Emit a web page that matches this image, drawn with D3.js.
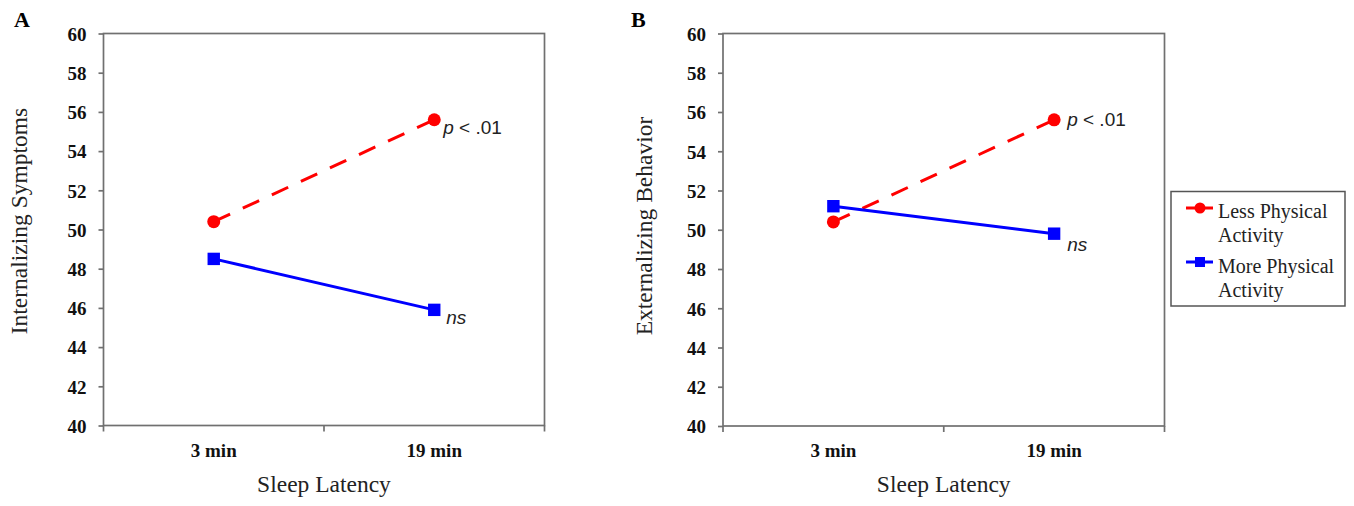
<!DOCTYPE html>
<html>
<head>
<meta charset="utf-8">
<script src="https://cdn.jsdelivr.net/npm/d3@7"></script>
<style>
  html, body { margin: 0; padding: 0; background: #fff; }
  svg { display: block; }
</style>
</head>
<body>
<svg id="chart" width="1354" height="506"></svg>
<script>
// ---------- data ----------
const categories = ["3 min", "19 min"];
const yTicks = [40, 42, 44, 46, 48, 50, 52, 54, 56, 58, 60];
const seriesNames = ["Less Physical Activity", "More Physical Activity"];
const legendLines = [["Less Physical", "Activity"], ["More Physical", "Activity"]];
const internalizingLess = [50.4, 55.6];
const internalizingMore = [48.5, 45.9];
const externalizingLess = [50.4, 55.6];
const externalizingMore = [51.2, 49.8];
const yTitles = ["Internalizing Symptoms", "Externalizing Behavior"];
const panelLetters = ["A", "B"];
const xTitle = "Sleep Latency";

// ---------- layout ----------
const svg = d3.select("#chart");
const SERIF = "'Liberation Serif', 'Times New Roman', serif";
const SANS = "'Liberation Sans', Arial, sans-serif";
const RED = "#ff0000", BLUE = "#0000ff", FRAME = "#707070";

const panels = [
  { left: 103.5, right: 544.5, top: 33.5, bottom: 425.5, letterX: 14, yTitleX: 27, yTitleY: 221,
    less: internalizingLess, more: internalizingMore, title: yTitles[0], letter: panelLetters[0],
    pAnn: [9, 14.5], nsAnn: [12, 14] },
  { left: 723, right: 1164.5, top: 33.5, bottom: 426, letterX: 631, yTitleX: 652, yTitleY: 226,
    less: externalizingLess, more: externalizingMore, title: yTitles[1], letter: panelLetters[1],
    pAnn: [13, 6], nsAnn: [13, 17.5] }
];

panels.forEach(p => {
  const g = svg.append("g");
  const x = d3.scaleBand().domain(categories).range([p.left, p.right]).padding(0);
  const y = d3.scaleLinear().domain([40, 60]).range([p.bottom, p.top]);
  const cx = c => x(c) + x.bandwidth() / 2;

  // frame
  g.append("rect")
    .attr("x", p.left).attr("y", p.top)
    .attr("width", p.right - p.left).attr("height", p.bottom - p.top)
    .attr("fill", "none").attr("stroke", FRAME).attr("stroke-width", 1.7);

  // y axis
  const yAxis = d3.axisLeft(y).tickValues(yTicks).tickSize(5).tickPadding(12).tickFormat(d3.format("d"));
  const ya = g.append("g").attr("transform", `translate(${p.left},0)`).call(yAxis);
  ya.select(".domain").remove();
  ya.selectAll(".tick line").attr("stroke", FRAME).attr("stroke-width", 1.7);
  ya.selectAll(".tick text")
    .attr("font-family", SERIF).attr("font-weight", "bold").attr("font-size", 19)
    .attr("fill", "#111").attr("dy", "0.36em");

  // x axis ticks at band boundaries
  const bounds = categories.map(c => x(c)).concat([x.range()[1]]);
  g.selectAll(".xtick").data(bounds).join("line")
    .attr("x1", d => d).attr("x2", d => d)
    .attr("y1", p.bottom).attr("y2", p.bottom + 6)
    .attr("stroke", FRAME).attr("stroke-width", 1.7);
  g.selectAll(".xlab").data(categories).join("text")
    .attr("x", d => cx(d)).attr("y", 457)
    .attr("text-anchor", "middle")
    .attr("font-family", SERIF).attr("font-weight", "bold").attr("font-size", 19)
    .attr("fill", "#111").text(d => d);

  // titles
  g.append("text")
    .attr("x", (p.left + p.right) / 2).attr("y", 492)
    .attr("text-anchor", "middle")
    .attr("font-family", SERIF).attr("font-size", 23.5).attr("fill", "#222")
    .text(xTitle);
  g.append("text")
    .attr("transform", `translate(${p.yTitleX},${p.yTitleY}) rotate(-90)`)
    .attr("text-anchor", "middle")
    .attr("font-family", SERIF).attr("font-size", 23.5).attr("fill", "#222")
    .text(p.title);
  g.append("text")
    .attr("x", p.letterX).attr("y", 27)
    .attr("font-family", SERIF).attr("font-weight", "bold").attr("font-size", 22)
    .attr("fill", "#000").text(p.letter);

  // lines
  const line = d3.line().x((d, i) => cx(categories[i])).y(d => y(d));
  g.append("path").datum(p.less).attr("d", line)
    .attr("fill", "none").attr("stroke", RED).attr("stroke-width", 3)
    .attr("stroke-dasharray", "18,14");
  g.append("path").datum(p.more).attr("d", line)
    .attr("fill", "none").attr("stroke", BLUE).attr("stroke-width", 3);

  // markers
  g.selectAll(".lessPt").data(p.less).join("circle")
    .attr("cx", (d, i) => cx(categories[i])).attr("cy", d => y(d))
    .attr("r", 6.5).attr("fill", RED);
  g.selectAll(".morePt").data(p.more).join("rect")
    .attr("x", (d, i) => cx(categories[i]) - 6.2).attr("y", d => y(d) - 6.2)
    .attr("width", 12.4).attr("height", 12.4).attr("fill", BLUE);

  // annotations
  const last = categories.length - 1;
  const pt = g.append("text")
    .attr("x", cx(categories[last]) + p.pAnn[0]).attr("y", y(p.less[last]) + p.pAnn[1])
    .attr("font-family", SANS).attr("font-size", 19).attr("fill", "#222");
  pt.append("tspan").attr("font-style", "italic").text("p");
  pt.append("tspan").text(" < .01");
  g.append("text")
    .attr("x", cx(categories[last]) + p.nsAnn[0]).attr("y", y(p.more[last]) + p.nsAnn[1])
    .attr("font-family", SANS).attr("font-size", 19).attr("font-style", "italic").attr("fill", "#222")
    .text("ns");
});

// ---------- legend ----------
const lg = svg.append("g");
lg.append("rect").attr("x", 1171).attr("y", 191.5).attr("width", 174).attr("height", 114.5)
  .attr("fill", "#fff").attr("stroke", "#555").attr("stroke-width", 1.5);
const legendItems = [
  { name: seriesNames[0], lines: legendLines[0], color: RED, shape: "circle", y: 208, textY: 218 },
  { name: seriesNames[1], lines: legendLines[1], color: BLUE, shape: "square", y: 262, textY: 273 }
];
legendItems.forEach(it => {
  lg.append("line").attr("x1", 1186).attr("x2", 1213).attr("y1", it.y).attr("y2", it.y)
    .attr("stroke", it.color).attr("stroke-width", 3);
  if (it.shape === "circle") {
    lg.append("circle").attr("cx", 1200).attr("cy", it.y).attr("r", 5.5).attr("fill", it.color);
  } else {
    lg.append("rect").attr("x", 1195).attr("y", it.y - 5).attr("width", 10).attr("height", 10).attr("fill", it.color);
  }
  const t = lg.append("text").attr("font-family", SERIF).attr("font-size", 20).attr("fill", "#222");
  it.lines.forEach((s, i) => {
    t.append("tspan").attr("x", 1218).attr("y", it.textY + i * 23.5).text(s);
  });
});
</script>
</body>
</html>
